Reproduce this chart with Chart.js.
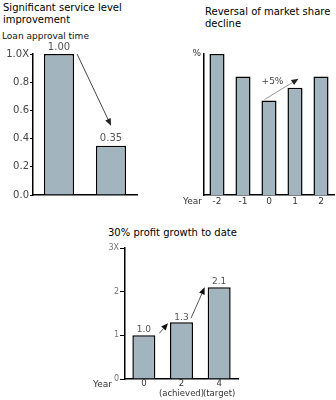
<!DOCTYPE html>
<html><head><meta charset="utf-8">
<script src="https://cdn.jsdelivr.net/npm/chart.js@4/dist/chart.umd.min.js"></script>
<style>
body{margin:0;background:#fff;width:336px;height:400px;overflow:hidden;position:relative;font-family:"DejaVu Sans",Verdana,sans-serif;}
canvas{position:absolute;left:0;top:0;}
.t{position:absolute;font-size:10px;line-height:12px;color:#000;white-space:nowrap;}
</style></head><body>
<div class="t" style="left:3px;top:2px">Significant service level<br>improvement</div>
<div class="t" style="left:2px;top:30px;font-size:9px;color:#111">Loan approval time</div>
<div class="t" style="left:205px;top:6px">Reversal of market share<br>decline</div>
<div class="t" style="left:108px;top:227px">30% profit growth to date</div>
<canvas id="c1" width="336" height="400"></canvas>
<canvas id="c2" width="336" height="400"></canvas>
<canvas id="c3" width="336" height="400"></canvas>
<script>
// ---- data ----
const loanCategories = ['Before', 'After'];
const loanValues = [1.00, 0.35];
const loanValueLabels = ['1.00', '0.35'];
const loanTickLabels = ['0.0', '0.2', '0.4', '0.6', '0.8', '1.0X'];

const shareYears = ['-2', '-1', '0', '1', '2'];
const shareValues = [100, 84, 67, 76, 84];
const shareTickLabel = '%';
const shareArrowLabel = '+5%';

const profitYears = [['0'], ['2', '(achieved)'], ['4', '(target)']];
const profitValues = [1.0, 1.3, 2.1];
const profitValueLabels = ['1.0', '1.3', '2.1'];
const profitTickLabels = ['0', '1', '2', '3X'];

const yearLabel = 'Year';

// ---- style ----
const F = '"DejaVu Sans", Verdana, sans-serif';
const BAR = '#a2b4be';

function arrow(ctx, x1, y1, x2, y2, lineColor, headColor) {
  const a = Math.atan2(y2 - y1, x2 - x1), L = 7, W = 3;
  const bx = x2 - L * Math.cos(a), by = y2 - L * Math.sin(a);
  ctx.save();
  ctx.strokeStyle = lineColor; ctx.lineWidth = 1;
  ctx.beginPath(); ctx.moveTo(x1, y1); ctx.lineTo(bx, by); ctx.stroke();
  ctx.fillStyle = headColor;
  ctx.beginPath(); ctx.moveTo(x2, y2);
  ctx.lineTo(bx + W * Math.sin(a), by - W * Math.cos(a));
  ctx.lineTo(bx - W * Math.sin(a), by + W * Math.cos(a));
  ctx.closePath(); ctx.fill();
  ctx.restore();
}
function txt(ctx, s, x, y, size, color, align) {
  ctx.save();
  ctx.font = size + 'px ' + F; ctx.fillStyle = color;
  ctx.textAlign = align || 'center'; ctx.textBaseline = 'middle';
  ctx.fillText(s, x, y);
  ctx.restore();
}
const common = {responsive: false, animation: false, devicePixelRatio: 1,
  plugins: {legend: {display: false}, tooltip: {enabled: false}}};

// ---- chart 1 ----
new Chart(document.getElementById('c1'), {
  type: 'bar',
  data: {labels: loanCategories, datasets: [{data: loanValues, backgroundColor: BAR, borderColor: '#000',
    borderWidth: 1.5, barPercentage: 0.58, categoryPercentage: 1}]},
  options: Object.assign({}, common, {
    layout: {padding: {left: 0, top: 54, right: 199, bottom: 400 - 195 - 10}},
    scales: {
      x: {grid: {display: false, drawTicks: false}, border: {display: true, color: '#000', width: 1.5},
          ticks: {display: false}, afterFit: s => { s.height = 10; }},
      y: {min: 0, max: 1,
          ticks: {stepSize: 0.2, callback: (v, i) => loanTickLabels[i], color: '#444', font: {family: F, size: 10}, padding: 1},
          grid: {drawOnChartArea: false, drawTicks: true, tickLength: 3, color: '#000', lineWidth: 1},
          border: {display: true, color: '#000', width: 1.5},
          afterFit: s => { s.width = 33; }}
    }
  }),
  plugins: [{id: 'p1', afterDatasetsDraw(chart) {
    const ctx = chart.ctx, bars = chart.getDatasetMeta(0).data;
    bars.forEach((b, i) => txt(ctx, loanValueLabels[i], b.x, b.y - 7, 10, '#555'));
    const b0 = bars[0], b1 = bars[1];
    arrow(ctx, b0.x + b0.width / 2 + 3, b0.y, b1.x, b1.y - 20, '#444', '#222');
  }}]
});

// ---- chart 2 ----
new Chart(document.getElementById('c2'), {
  type: 'bar',
  data: {labels: shareYears, datasets: [{data: shareValues, backgroundColor: BAR, borderColor: '#000',
    borderWidth: 1.5, barPercentage: 0.58, categoryPercentage: 1}]},
  options: Object.assign({}, common, {
    layout: {padding: {left: 184, top: 54, right: 2, bottom: 400 - 195 - 16}},
    scales: {
      x: {grid: {display: false, drawTicks: false}, border: {display: true, color: '#000', width: 1.5},
          ticks: {color: '#333', font: {family: F, size: 9, lineHeight: 1.1}, padding: 2, autoSkip: false, maxRotation: 0},
          afterFit: s => { s.height = 16; }},
      y: {min: 0, max: 100,
          ticks: {stepSize: 100, callback: (v, i) => (i === 1 ? shareTickLabel : ''), color: '#333', font: {family: F, size: 9}, padding: 3},
          grid: {display: false, drawTicks: false},
          border: {display: true, color: '#000', width: 1.5},
          afterFit: s => { s.width = 20; }}
    }
  }),
  plugins: [{id: 'p2', afterDatasetsDraw(chart) {
    const ctx = chart.ctx, bars = chart.getDatasetMeta(0).data;
    const b2 = bars[2], b3 = bars[3];
    arrow(ctx, b2.x - 4.5, b2.y - 1, b3.x + 3.5, b3.y - 9, '#999', '#222');
    txt(ctx, shareArrowLabel, b2.x + 3.5, b3.y - 6, 9, '#444');
    txt(ctx, yearLabel, chart.chartArea.left - 2, chart.chartArea.bottom + 7, 9, '#333', 'right');
  }}]
});

// ---- chart 3 ----
new Chart(document.getElementById('c3'), {
  type: 'bar',
  data: {labels: profitYears, datasets: [{data: profitValues, backgroundColor: BAR, borderColor: '#000',
    borderWidth: 1.5, barPercentage: 0.61, categoryPercentage: 1}]},
  options: Object.assign({}, common, {
    layout: {padding: {left: 105, top: 248, right: 98, bottom: 0}},
    scales: {
      x: {grid: {display: false, drawTicks: false}, border: {display: true, color: '#000', width: 1.5},
          ticks: {color: '#333', font: {family: F, size: 8.5, lineHeight: 1.15}, padding: 0, autoSkip: false, maxRotation: 0},
          afterFit: s => { s.height = 21; }},
      y: {min: 0, max: 3,
          ticks: {stepSize: 1, callback: (v, i) => profitTickLabels[i], color: '#777', font: {family: F, size: 8}, padding: 1},
          grid: {drawOnChartArea: false, drawTicks: true, tickLength: 5, color: '#000', lineWidth: 1},
          border: {display: true, color: '#000', width: 1.5},
          afterFit: s => { s.width = 20; }}
    }
  }),
  plugins: [{id: 'p3', afterDatasetsDraw(chart) {
    const ctx = chart.ctx, bars = chart.getDatasetMeta(0).data;
    const offs = [6, 5, 6];
    bars.forEach((b, i) => txt(ctx, profitValueLabels[i], b.x, b.y - offs[i], 9, '#555'));
    const [b0, b1, b2] = bars;
    arrow(ctx, b0.x + b0.width / 2 + 4, b0.y - 2, b1.x - b1.width / 2 - 2, b1.y + 1, '#555', '#111');
    arrow(ctx, b1.x + b1.width / 2 - 2, b1.y - 4, b2.x - b2.width / 2 - 3, b2.y, '#555', '#111');
    txt(ctx, yearLabel, chart.chartArea.left - 13, chart.chartArea.bottom + 6, 9, '#333', 'right');
  }}]
});
</script>
</body></html>
